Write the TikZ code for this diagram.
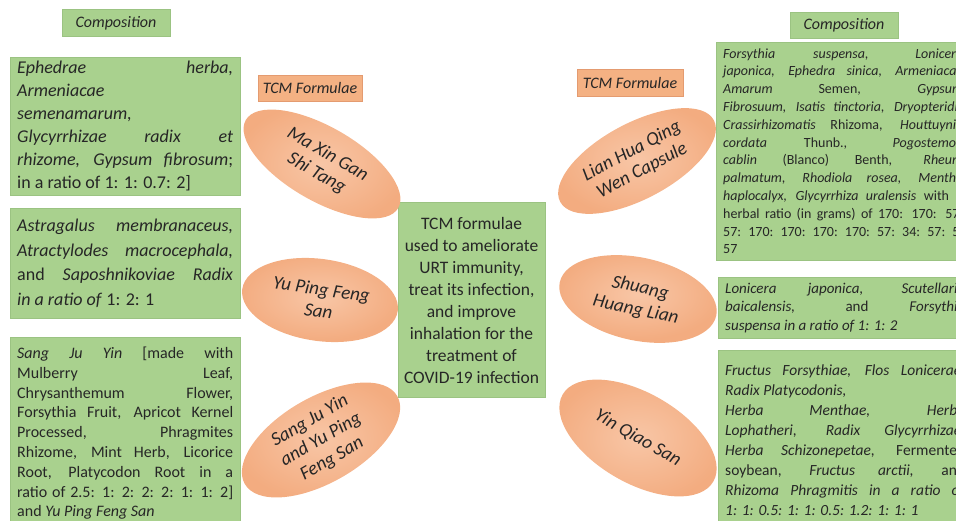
\documentclass[tikz,border=0pt]{standalone}
\usepackage{fontspec}
\setmainfont{Carlito}
\usetikzlibrary{shapes.geometric, positioning}
\definecolor{herbgreen}{RGB}{169,209,142}
\definecolor{herbline}{RGB}{155,195,130}
\definecolor{salmon}{RGB}{244,177,131}
\definecolor{salmonedge}{RGB}{243,172,128}
\definecolor{salmonmid}{RGB}{248,198,166}
\definecolor{salmonline}{RGB}{228,155,112}
\definecolor{inkgray}{RGB}{38,38,38}
\tikzset{
  herbs/.style={draw=herbline, fill=herbgreen, thin, align=justify, inner xsep=7pt, inner ysep=3pt, anchor=north west, text=inkgray},
  hub/.style={draw=herbline, fill=herbgreen, thin, align=center, inner sep=2pt, text=inkgray, font=\fontsize{17.5}{22}\selectfont},
  tag/.style={thin, align=center, inner sep=1pt, text=inkgray, font=\itshape\fontsize{16}{18}\selectfont},
  formula/.style={ellipse, inner sep=0pt, shade, inner color=salmonmid, outer color=salmonedge, align=center, text=inkgray, font=\itshape\fontsize{19}{22}\selectfont},
  every node/.style={font=\fontsize{15}{20}\selectfont}
}

\begin{document}
\begin{tikzpicture}[x=1pt, y=1pt]
    \path[use as bounding box] (0,0) rectangle (956,-521);
    \clip (0,0) rectangle (956,-521);

    % labels
    \node[tag, draw=herbline, fill=herbgreen, minimum width=108, minimum height=27] (compL) at (116,-23) {Composition};
    \node[tag, draw=salmonline, fill=salmon, minimum width=104, minimum height=26] (tcmL) at (310,-88) {TCM Formulae};
    \node[tag, draw=salmonline, fill=salmon, minimum width=106, minimum height=27] (tcmR) at (630,-83) {TCM Formulae};
    \node[tag, draw=herbline, fill=herbgreen, minimum width=108, minimum height=26] (compR) at (844,-25) {Composition};

    % centre
    \node[hub, minimum width=147, minimum height=195] (hub) at (471.5,-300) {TCM formulae\\used to ameliorate\\URT immunity,\\treat its infection,\\and improve\\inhalation for the\\treatment of\\COVID-19 infection};

    % formulae
    \node[formula, minimum width=176, minimum height=74, rotate=-30] (maxin) at (322,-164) {Ma Xin Gan\\Shi Tang};
    \node[formula, minimum width=157, minimum height=82, rotate=-8] (yuping) at (320,-300) {Yu Ping Feng\\San};
    \node[formula, minimum width=176, minimum height=78, rotate=30] (sangju) at (321,-440) {Sang Ju Yin\\and Yu Ping\\Feng San};
    \node[formula, minimum width=174, minimum height=76, rotate=28] (lianhua) at (637,-161) {Lian Hua Qing\\Wen Capsule};
    \node[formula, minimum width=160, minimum height=83, rotate=-12] (shuang) at (638,-299) {Shuang\\Huang Lian};
    \node[formula, minimum width=174, minimum height=90, rotate=-30] (yinqiao) at (638,-438) {Yin Qiao San};

    % compositions, left
    \node[herbs, text width=216, minimum height=138, font=\fontsize{18}{23}\selectfont] (ephedra) at (10,-57)
      {\textit{Ephedrae herba,}\linebreak
       \textit{Armeniacae}\linebreak
       \textit{semenamarum,}\linebreak
       \textit{Glycyrrhizae radix et}\linebreak
       \textit{rhizome, Gypsum fibrosum};\linebreak
       in a ratio of 1: 1: 0.7: 2]};
    \node[herbs, text width=216, minimum height=110, font=\fontsize{18}{24.5}\selectfont] (astragalus) at (10,-208)
      {\textit{Astragalus membranaceus,}\linebreak
       \textit{Atractylodes macrocephala,}\linebreak
       and \textit{Saposhnikoviae Radix}\linebreak
       \textit{in a ratio of} 1: 2: 1};
    \node[herbs, text width=216, minimum height=192, font=\fontsize{16}{19.8}\selectfont] (mulberry) at (10,-337)
      {\textit{Sang Ju Yin} [made with\linebreak
       Mulberry Leaf,\linebreak
       Chrysanthemum Flower,\linebreak
       Forsythia Fruit, Apricot Kernel\linebreak
       Processed, Phragmites\linebreak
       Rhizome, Mint Herb, Licorice\linebreak
       Root, Platycodon Root in a\linebreak
       ratio of 2.5: 1: 2: 2: 2: 1: 1: 2]\linebreak
       and \textit{Yu Ping Feng San}};

    % compositions, right
    \node[herbs, text width=240, minimum height=218, font=\fontsize{14}{17.8}\selectfont] (forsythia) at (716,-42)
      {\textit{Forsythia suspensa, Lonicera}\linebreak
       \textit{japonica, Ephedra sinica, Armeniacae}\linebreak
       \textit{Amarum} Semen, \textit{Gypsum}\linebreak
       \textit{Fibrosuum, Isatis tinctoria, Dryopteridis}\linebreak
       \textit{Crassirhizomatis} Rhizoma, \textit{Houttuynia}\linebreak
       \textit{cordata} Thunb., \textit{Pogostemon}\linebreak
       \textit{cablin} (Blanco) Benth, \textit{Rheum}\linebreak
       \textit{palmatum, Rhodiola rosea, Mentha}\linebreak
       \textit{haplocalyx, Glycyrrhiza uralensis} with a\linebreak
       herbal ratio (in grams) of 170: 170: 57:\linebreak
       57: 170: 170: 170: 170: 57: 34: 57: 5:\linebreak
       57};
    \node[herbs, text width=240, minimum height=61, font=\fontsize{15}{18.5}\selectfont] (lonicera) at (718,-277)
      {\textit{Lonicera japonica, Scutellaria}\linebreak
       \textit{baicalensis,} and \textit{Forsythia}\linebreak
       \textit{suspensa in a ratio of 1: 1: 2}};
    \node[herbs, text width=240, minimum height=180, font=\fontsize{15.5}{20}\selectfont] (fructus) at (718,-350)
      {\textit{Fructus Forsythiae, Flos Lonicerae,}\linebreak
       \textit{Radix Platycodonis,}\hfil\break
       \textit{Herba Menthae, Herba}\linebreak
       \textit{Lophatheri, Radix Glycyrrhizae,}\linebreak
       \textit{Herba Schizonepetae,} Fermented\linebreak
       soybean, \textit{Fructus arctii,} and\linebreak
       \textit{Rhizoma Phragmitis in a ratio of}\linebreak
       \textit{1: 1: 0.5: 1: 1: 0.5: 1.2: 1: 1: 1}};
\end{tikzpicture}
\end{document}
